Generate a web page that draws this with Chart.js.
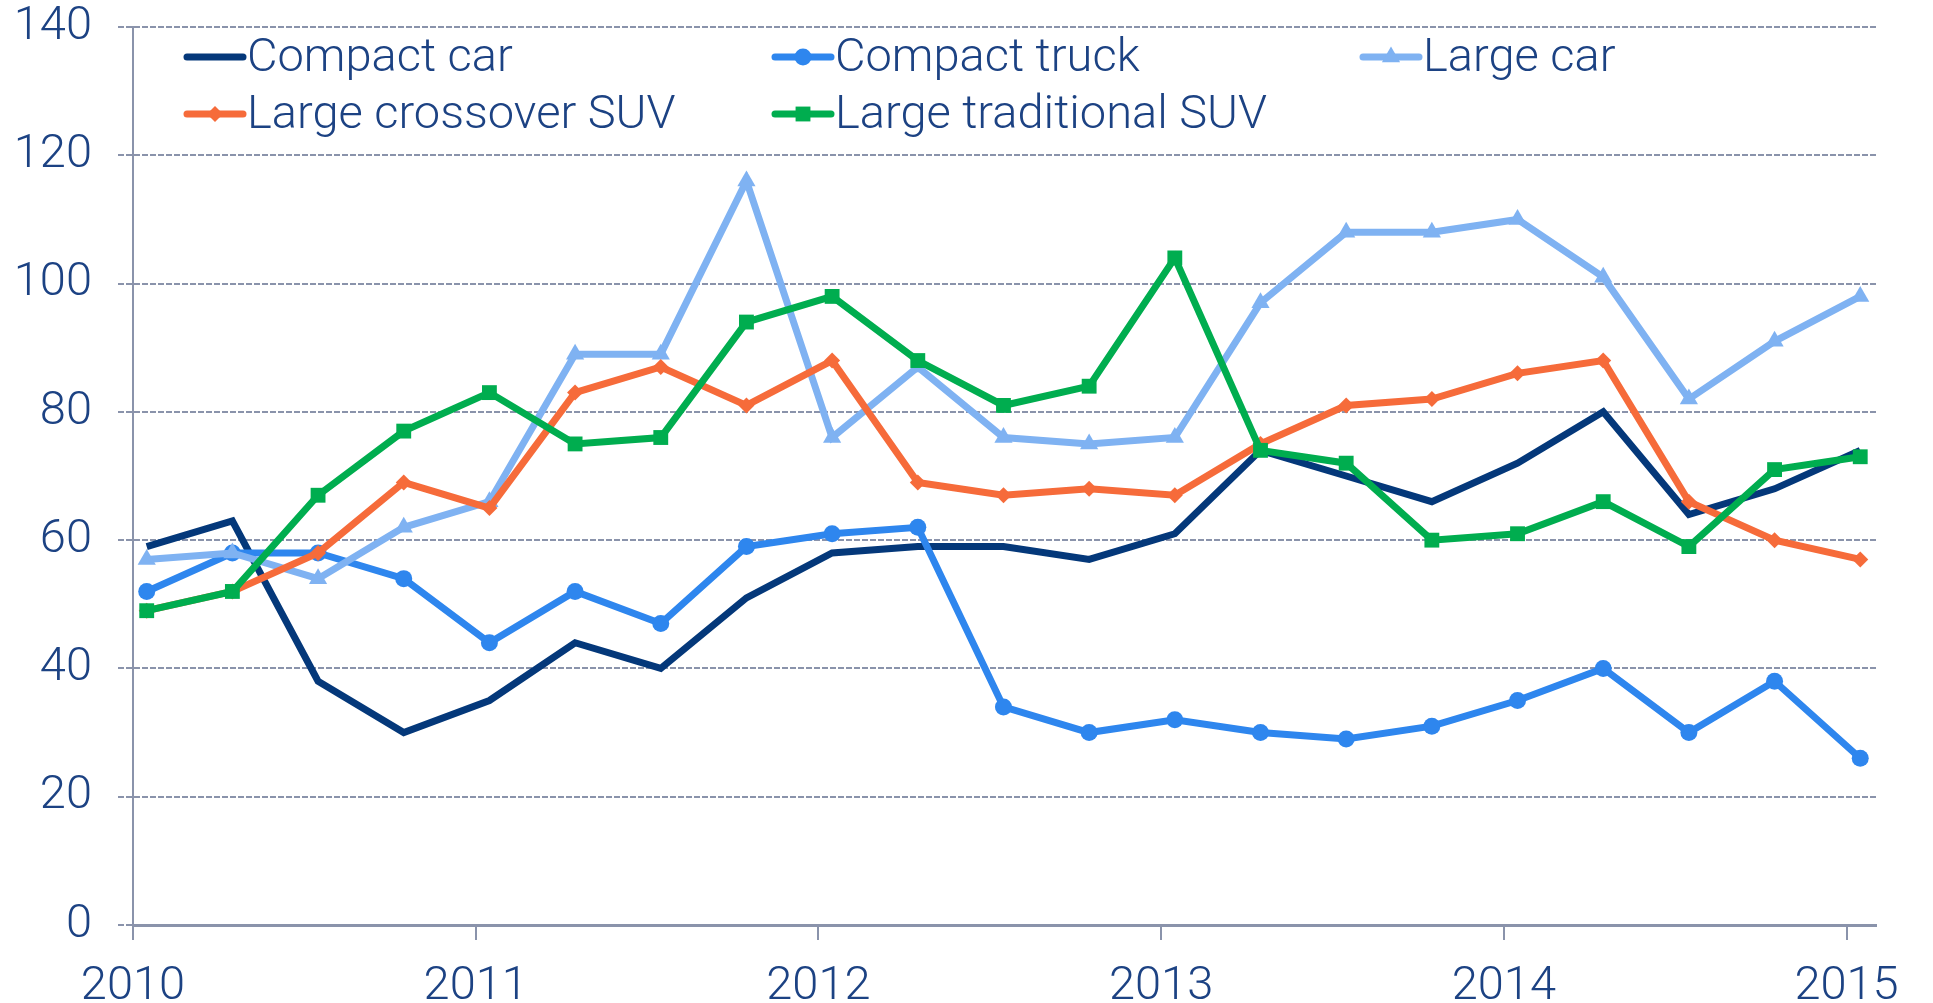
<!DOCTYPE html>
<html>
<head>
<meta charset="utf-8">
<script src="https://cdn.jsdelivr.net/npm/chart.js@4.4.1/dist/chart.umd.min.js"></script>
<style>
  html, body { margin: 0; padding: 0; background: #ffffff; }
  #wrap { width: 1933px; height: 1003px; }
</style>
</head>
<body>
<div id="wrap"><canvas id="chart" width="1933" height="1003"></canvas></div>
<script>
// quarterly readings, x in years
var quarters = [2010.04, 2010.29, 2010.54, 2010.79, 2011.04, 2011.29, 2011.54, 2011.79,
                2012.04, 2012.29, 2012.54, 2012.79, 2013.04, 2013.29, 2013.54, 2013.79,
                2014.04, 2014.29, 2014.54, 2014.79, 2015.04];
var yearTicks = [2010, 2011, 2012, 2013, 2014, 2015];
var valueTicks = [0, 20, 40, 60, 80, 100, 120, 140];

var compactCar = [59, 63, 38, 30, 35, 44, 40, 51, 58, 59, 59, 57, 61, 74, 70, 66, 72, 80, 64, 68, 74];
var compactTruck = [52, 58, 58, 54, 44, 52, 47, 59, 61, 62, 34, 30, 32, 30, 29, 31, 35, 40, 30, 38, 26];
var largeCar = [57, 58, 54, 62, 66, 89, 89, 116, 76, 87, 76, 75, 76, 97, 108, 108, 110, 101, 82, 91, 98];
var largeCrossover = [49, 52, 58, 69, 65, 83, 87, 81, 88, 69, 67, 68, 67, 75, 81, 82, 86, 88, 66, 60, 57];
var largeTraditional = [49, 52, 67, 77, 83, 75, 76, 94, 98, 88, 81, 84, 104, 74, 72, 60, 61, 66, 59, 71, 73];

var seriesNames = ['Compact car', 'Compact truck', 'Large car', 'Large crossover SUV', 'Large traditional SUV'];

var textColor = '#1c4283';
var gridColor = '#8a93ab';
var fontFamily = 'Roboto, "Liberation Sans", sans-serif';
var fontWeight = '300';
var fontSize = 47;

function pairs(values) {
    return values.map(function (v, i) { return { x: quarters[i], y: v }; });
}

var styles = [
    { color: '#04387a', pointStyle: 'circle', radius: 0 },
    { color: '#2e86ee', pointStyle: 'circle', radius: 8.5 },
    { color: '#7fb2f2', pointStyle: 'triangle', radius: 10.5 },
    { color: '#f66b3a', pointStyle: 'rectRot', radius: 8 },
    { color: '#00ad4f', pointStyle: 'rect', radius: 10.5 }
];
var seriesValues = [compactCar, compactTruck, largeCar, largeCrossover, largeTraditional];

var datasets = seriesValues.map(function (vals, i) {
    var s = styles[i];
    return {
        label: seriesNames[i],
        data: pairs(vals),
        borderColor: s.color,
        backgroundColor: s.color,
        borderWidth: 7,
        pointStyle: s.pointStyle,
        pointRadius: s.radius,
        pointBorderWidth: 0,
        pointHoverRadius: s.radius,
        tension: 0,
        order: 5 - i
    };
});

// legend drawn inside the plot area, 3 columns x 2 rows
var insideLegend = {
    id: 'insideLegend',
    afterDraw: function (chart) {
        var ctx = chart.ctx;
        var area = chart.chartArea;
        ctx.save();
        ctx.font = fontWeight + ' ' + fontSize + 'px ' + fontFamily;
        ctx.textBaseline = 'middle';
        for (var i = 0; i < seriesNames.length; i++) {
            var col = i % 3, row = Math.floor(i / 3);
            var x0 = area.left + 54 + col * 588;
            var y0 = area.top + 30 + row * 57;
            var s = styles[i];
            ctx.strokeStyle = s.color;
            ctx.lineWidth = 7;
            ctx.lineCap = 'round';
            ctx.beginPath();
            ctx.moveTo(x0, y0);
            ctx.lineTo(x0 + 56, y0);
            ctx.stroke();
            if (s.radius > 0) {
                ctx.fillStyle = s.color;
                Chart.helpers.drawPoint(ctx, { pointStyle: s.pointStyle, radius: s.radius, borderWidth: 0 }, x0 + 28, y0);
            }
            ctx.fillStyle = textColor;
            ctx.fillText(seriesNames[i], x0 + 60, y0 + 2);
        }
        ctx.restore();
    }
};

new Chart(document.getElementById('chart'), {
    type: 'line',
    data: { datasets: datasets },
    options: {
        responsive: false,
        animation: false,
        layout: { padding: { top: 27, right: 57, left: 0, bottom: 0 } },
        plugins: { legend: { display: false }, tooltip: { enabled: false } },
        scales: {
            x: {
                type: 'linear',
                min: 2010,
                max: 2015.086,
                afterBuildTicks: function (scale) {
                    scale.ticks = yearTicks.map(function (v) { return { value: v }; });
                },
                afterFit: function (scale) { scale.height = 78; },
                grid: { drawOnChartArea: false, drawTicks: true, tickLength: 15, color: gridColor, lineWidth: 2 },
                border: { color: gridColor, width: 3 },
                ticks: {
                    color: textColor,
                    font: { family: fontFamily, size: fontSize, weight: fontWeight },
                    padding: 19,
                    maxRotation: 0,
                    autoSkip: false,
                    callback: function (v) { return String(v); }
                }
            },
            y: {
                min: 0,
                max: 140,
                afterBuildTicks: function (scale) {
                    scale.ticks = valueTicks.map(function (v) { return { value: v }; });
                },
                afterFit: function (scale) {
                    scale.width = 133;
                    scale.paddingTop = 0;
                    scale.paddingBottom = 0;
                },
                grid: {
                    color: gridColor,
                    lineWidth: 2,
                    tickLength: 15,
                    tickBorderDash: [6, 2]
                },
                border: { color: gridColor, width: 2, dash: [6, 2] },
                ticks: {
                    color: textColor,
                    font: { family: fontFamily, size: fontSize, weight: fontWeight },
                    padding: 26
                }
            }
        }
    },
    plugins: [insideLegend]
});
</script>
</body>
</html>
